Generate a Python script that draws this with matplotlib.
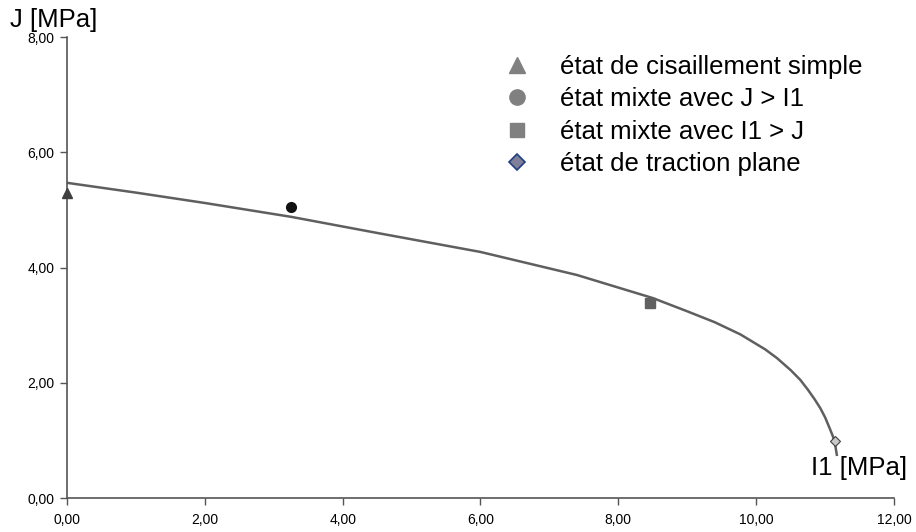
import matplotlib
matplotlib.use('Agg')
import matplotlib.pyplot as plt
from matplotlib.lines import Line2D
from matplotlib.ticker import FuncFormatter

plt.rcParams['font.family'] = ['Liberation Sans', 'DejaVu Sans']

# fitted criterion curve (I1, J)
curve_i1 = [0.00, 1.00, 2.00, 3.25, 4.50, 6.00, 7.40, 8.50, 9.00, 9.40,
            9.77, 10.13, 10.30, 10.50, 10.64, 10.75, 10.85, 10.93, 11.00,
            11.07, 11.11, 11.14, 11.17]
curve_j = [5.47, 5.30, 5.12, 4.88, 4.60, 4.27, 3.87, 3.47, 3.24, 3.05,
           2.84, 2.58, 2.43, 2.22, 2.05, 1.88, 1.71, 1.56, 1.40,
           1.20, 1.08, 0.97, 0.75]

# test states
states = ['état de cisaillement simple', 'état mixte avec J > I1',
          'état mixte avec I1 > J', 'état de traction plane']
state_i1 = [0.00, 3.25, 8.46, 11.15]
state_j = [5.30, 5.05, 3.39, 0.99]

x_ticks = [0, 2, 4, 6, 8, 10, 12]
y_ticks = [0, 2, 4, 6, 8]

fig = plt.figure(figsize=(9.16, 5.32), dpi=100)
ax = fig.add_axes([0.0731, 0.0639, 0.9029, 0.8665])

ax.plot(curve_i1, curve_j, color='#5f5f5f', lw=1.8, zorder=2,
        solid_joinstyle='round')

plot_styles = [
    dict(marker='^', ms=7.5, mfc='#404040', mec='#404040'),
    dict(marker='o', ms=7, mfc='#111111', mec='#111111'),
    dict(marker='s', ms=6.5, mfc='#606060', mec='#606060'),
    dict(marker='D', ms=5, mfc='#c8c8c8', mec='#404040', mew=0.8),
]
for xi, yi, st in zip(state_i1, state_j, plot_styles):
    ax.plot([xi], [yi], ls='none', clip_on=False, zorder=3, **st)

legend_styles = [
    dict(marker='^', ms=12, mfc='#808080', mec='#808080'),
    dict(marker='o', ms=11, mfc='#808080', mec='#808080'),
    dict(marker='s', ms=10.5, mfc='#808080', mec='#808080'),
    dict(marker='D', ms=8.5, mfc='#7f7f9a', mec='#1f3f7f', mew=1.2),
]
handles = [Line2D([], [], ls='none', **st) for st in legend_styles]
ax.legend(handles, states, loc='upper left', bbox_to_anchor=(0.550, 0.897),
          bbox_transform=fig.transFigure, frameon=False, fontsize=18.5,
          handlelength=1.0, handletextpad=1.2, labelspacing=0.33,
          borderpad=0, borderaxespad=0)

ax.set_xlim(0, 12)
ax.set_ylim(0, 8)
ax.set_xticks(x_ticks)
ax.set_yticks(y_ticks)
fmt = FuncFormatter(lambda v, p: f'{v:.2f}'.replace('.', ','))
ax.xaxis.set_major_formatter(fmt)
ax.yaxis.set_major_formatter(fmt)
ax.tick_params(labelsize=10, length=5, width=1, color='#555555')
ax.tick_params(axis='x', pad=6)
ax.tick_params(axis='y', pad=4)

for s in ['top', 'right']:
    ax.spines[s].set_visible(False)
for s in ['left', 'bottom']:
    ax.spines[s].set_color('#555555')
    ax.spines[s].set_linewidth(1.2)

fig.text(10 / 916, 1 - 20 / 532, 'J [MPa]', fontsize=18.5, va='center', ha='left')
fig.text(907 / 916, 1 - 468 / 532, 'I1 [MPa]', fontsize=18.5, va='center', ha='right')

fig.savefig('out.png', dpi=100)
